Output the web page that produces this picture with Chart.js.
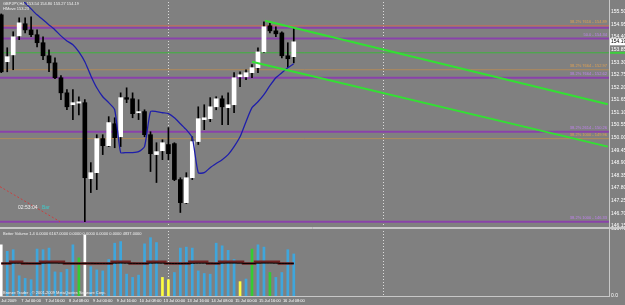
<!DOCTYPE html>
<html><head><meta charset="utf-8">
<script src="https://cdn.jsdelivr.net/npm/chart.js@4.4.1/dist/chart.umd.min.js"></script>
<style>
html,body{margin:0;padding:0;background:#808080;}
#wrap{position:relative;width:625px;height:305px;overflow:hidden;background:#808080;}
#main{position:absolute;left:0;top:0;}
#vol{position:absolute;left:0;top:228px;}
</style></head><body>
<div id="wrap"><canvas id="main" width="625" height="228"></canvas><canvas id="vol" width="625" height="77"></canvas></div>
<script>
// ---------- DATA ----------
const barIdx = [-1,0,1,2,3,4,5,6,7,8,9,10,11,12,13,14,15,16,17,18,19,20,21,22,23,24,25,26,27,28,29,30,31,32,33,34,35,36,37,38,39,40,41,42,43,44,45,46,47,48];
const opens  = [155.37,153.32,153.62,154.45,154.98,154.71,154.50,154.15,153.58,153.27,152.62,151.96,151.44,151.51,151.53,148.21,148.47,149.96,149.65,150.61,150.04,151.75,151.70,151.09,151.14,150.13,149.26,149.43,149.70,149.74,148.17,147.16,148.25,149.83,150.79,150.83,151.35,151.70,151.31,151.44,152.66,152.66,152.84,153.06,153.75,154.89,154.67,154.58,153.58,153.54];
const highs  = [155.41,153.93,154.63,155.24,155.24,155.28,154.71,154.41,153.84,153.49,152.71,152.10,152.10,151.79,151.66,148.91,150.13,150.13,150.92,150.87,151.96,152.18,151.96,151.66,151.22,150.26,149.78,149.91,150.44,149.78,148.25,148.47,150.04,151.35,151.44,151.75,151.79,151.83,151.96,152.84,152.88,152.97,153.19,153.93,155.06,155.02,154.85,154.63,154.15,154.80];
const lows   = [152.84,152.88,152.97,154.28,154.58,154.41,153.97,153.41,152.88,152.58,151.66,151.22,150.79,151.00,146.33,147.60,147.73,149.26,149.61,149.56,149.61,151.53,150.87,150.79,150.04,148.52,148.04,149.04,149.04,148.12,146.73,147.12,148.17,149.70,150.35,150.70,151.22,150.57,150.57,151.09,152.23,152.53,152.62,152.84,153.71,154.58,154.41,153.49,153.06,153.27];
const closes = [152.88,153.54,154.41,155.02,154.71,154.50,154.15,153.58,153.27,152.62,151.96,151.35,151.53,151.57,148.25,148.47,149.96,149.65,150.66,150.00,151.75,151.68,151.05,151.14,150.13,149.30,149.39,149.78,149.30,148.17,147.16,148.25,149.83,150.83,150.87,151.35,151.70,151.35,151.44,152.62,152.75,152.84,153.06,153.75,154.85,154.67,154.54,153.58,153.45,154.19];

const maBars   = [2,3,4,5,6,7,8,9,10,11,12,13,14,15,16,17,18,19,20,21,22,23,24,25,26,27,28,29,30,31,32,33,34,35,36,37,38,39,40,41,42,43,44,45,46,47,48];
const maValues = [156.16,155.89,155.63,155.37,155.15,154.93,154.71,154.45,154.23,154.06,153.75,153.32,152.71,152.18,151.79,151.53,151.22,149.35,149.35,149.35,149.39,149.61,151.14,151.14,151.09,151.05,150.87,150.61,150.35,150.00,148.47,148.47,148.69,148.87,149.04,149.26,149.61,150.04,150.70,151.31,151.57,151.88,152.27,152.62,152.84,153.06,153.23];

const volumes  = [4710,4110,4260,1860,1620,1500,4320,4260,4410,2220,2160,2460,4710,3510,5610,2700,2400,2310,3360,4860,5010,2010,1710,1920,4800,5370,4920,1710,1500,2160,4410,4500,4410,2310,2070,2010,4860,4620,4200,3360,1320,1560,4320,4710,4500,2160,1710,2160,4260,3870];
const volClass = ['climax','normal','normal','normal','normal','normal','normal','normal','normal','normal','normal','normal','normal','churn','climax','normal','normal','normal','normal','normal','normal','normal','normal','normal','normal','normal','normal','low','low','normal','normal','normal','normal','normal','normal','normal','normal','normal','normal','normal','low','normal','churn','normal','normal','churn','normal','normal','normal','normal'];
const volAvgSlow = [3000,3000,3150,3150,3000,3000,3000,3150,3150,3150,3150,3000,3000,3000,3000,3000,3000,3000,3000,3150,3150,3150,3000,3000,3000,3150,3150,3150,3000,3000,3000,3000,3150,3150,3150,3000,3000,3150,3150,3150,3150,3000,3000,3150,3150,3150,3150,3000,3000,3000];
const volAvgFast = [3010,3010,3020,3020,3010,3000,3000,3020,3030,3030,3020,3010,3000,3000,3010,3010,3000,3000,3000,3020,3030,3020,3010,3000,3000,3020,3030,3020,3000,2990,2990,3000,3010,3020,3020,3010,3000,3020,3030,3030,3020,3000,3000,3020,3030,3030,3020,3000,3000,3000];
const volMax = 6167;

const levelPrices = [154.89,154.80,154.34,153.71,152.97,152.62,150.26,149.96,146.33];
const levelKinds  = ['red','purple','purple','green','tan','purple','purple','tan','purple'];
const levelTexts  = ['38.2% 7616 - 154.89','','50.0 - 154.34','','38.2% 7664 - 152.97','38.2% 7664 - 152.62','38.2% 2614 - 150.26','38.2% 1000 - 149.96','38.2% 1000 - 146.33'];

const chanUpperBars = [43.2,100.6];  const chanUpperPrices = [155.11,151.46];
const chanLowerBars = [41.0,100.6];  const chanLowerPrices = [153.32,149.61];
const dottedBars = [-1.21,8.85];     const dottedPrices = [147.86,146.33];

const priceTicks = [155.50,154.95,154.40,153.85,153.30,152.75,152.20,151.65,151.10,150.55,150.00,149.45,148.90,148.35,147.80,147.25,146.70,146.15];
const timeTickBars = [0,4,8,12,16,20,24,28,32,36,40,44,48];
const timeTickLabels = ['6 Jul 2009','7 Jul 00:00','7 Jul 16:00','8 Jul 08:00','9 Jul 00:00','9 Jul 16:00','10 Jul 08:00','13 Jul 00:00','13 Jul 16:00','14 Jul 08:00','15 Jul 00:00','15 Jul 16:00','16 Jul 08:00'];
const separatorBars = [27,63];

const headerLine1 = 'GBPJPY,H4  153.54 154.80 153.27 154.19';
const headerLine2 = 'HMove 153.23';
const timerText = '02:53:04';
const timerTag = 'Bar';
const volTitle = 'Better Volume 1.4 0.0000 6167.0000 0.0000 0.0000 0.0000 0.0000 4837.0000';
const volFooter = 'Bronze Trader , \u00a9 2001-2009 MetaQuotes Software Corp.';

// ---------- STYLE ----------
const X_MIN = -1.21, X_MAX = 100.8;
const FONT = 'Liberation Sans';
const levelStyle = {
  red:{c:'#c86a5a',w:1,t:'#e0a050'}, purple:{c:'#8a42aa',w:2,t:'#c080f0'},
  green:{c:'#3cb43c',w:1,t:'#3cb43c'}, tan:{c:'#b08a5a',w:1,t:'#e0a050'}
};
const volColor = {normal:'#3fa6dc', churn:'#33cc33', low:'#ffff40', climax:'#ffffff'};

function zeroPad(s){ s.paddingTop=0; s.paddingBottom=0; s.paddingLeft=0; s.paddingRight=0; }

// ---------- MAIN CHART ----------
const datasets = [];
levelPrices.forEach((p,i)=>{
  const st = levelStyle[levelKinds[i]];
  datasets.push({type:'line', data:[{x:X_MIN,y:p},{x:X_MAX,y:p}], borderColor:st.c, borderWidth:st.w, pointRadius:0, order:10});
});
datasets.push({type:'bar', data: barIdx.map((b,i)=>({x:b, y:[lows[i],highs[i]]})), backgroundColor:'#000000', barThickness:1, grouped:false, order:4});
datasets.push({type:'bar', data: barIdx.map((b,i)=>({x:b, y:[opens[i],closes[i]]})),
  backgroundColor: barIdx.map((b,i)=> closes[i]>=opens[i] ? '#ffffff' : '#000000'),
  barThickness:4, grouped:false, minBarLength:1, order:3});
datasets.push({type:'line', data: maBars.map((b,i)=>({x:b,y:maValues[i]})), borderColor:'#1e1eaa', borderWidth:1.3, pointRadius:0, tension:0.2, order:1});
datasets.push({type:'line', data: chanUpperBars.map((b,i)=>({x:b,y:chanUpperPrices[i]})), borderColor:'#33e033', borderWidth:2, pointRadius:0, order:0});
datasets.push({type:'line', data: chanLowerBars.map((b,i)=>({x:b,y:chanLowerPrices[i]})), borderColor:'#33e033', borderWidth:2, pointRadius:0, order:0});
datasets.push({type:'line', data: dottedBars.map((b,i)=>({x:b,y:dottedPrices[i]})), borderColor:'#c84040', borderWidth:1, borderDash:[2,2], pointRadius:0, order:0});

const mainOverlay = {
  id:'mainOverlay',
  beforeDatasetsDraw(chart){
    const {ctx, chartArea:a, scales:{x}} = chart;
    ctx.save(); ctx.strokeStyle='#dcdcdc'; ctx.lineWidth=1; ctx.setLineDash([1,2]);
    separatorBars.forEach(b=>{ const px=Math.round(x.getPixelForValue(b))+0.5; ctx.beginPath(); ctx.moveTo(px,a.top); ctx.lineTo(px,a.bottom); ctx.stroke(); });
    ctx.restore();
  },
  afterDraw(chart){
    const {ctx, chartArea:a, scales:{y}} = chart;
    ctx.save();
    ctx.font = '4px "'+FONT+'"'; ctx.textAlign='right'; ctx.textBaseline='bottom';
    levelPrices.forEach((p,i)=>{
      if(!levelTexts[i]) return;
      ctx.fillStyle = levelStyle[levelKinds[i]].t;
      ctx.fillText(levelTexts[i], a.right-2, y.getPixelForValue(p)-1.5);
    });
    const gi = levelKinds.indexOf('green');
    const gy = y.getPixelForValue(levelPrices[gi]);
    ctx.fillStyle='#3cd03c'; ctx.fillRect(a.right, gy-1, chart.width-a.right, 2);
    const last = closes[closes.length-1];
    const cy = y.getPixelForValue(last);
    ctx.fillStyle='#ffffff'; ctx.fillRect(a.right+1, cy-3.5, chart.width-a.right-1, 7);
    ctx.fillStyle='#000000'; ctx.font='5px "'+FONT+'"'; ctx.textAlign='left'; ctx.textBaseline='middle';
    ctx.fillText(last.toFixed(2), a.right+2, cy);
    ctx.fillStyle='#f0f0f0'; ctx.font='4px "'+FONT+'"'; ctx.textBaseline='top';
    ctx.fillText(headerLine1, 3, 2);
    ctx.fillText(headerLine2, 3, 7);
    ctx.font='5px "'+FONT+'"'; ctx.textBaseline='middle';
    ctx.fillStyle='#f0f0f0'; ctx.fillText(timerText, a.left+18, a.top+206);
    ctx.fillStyle='#40c8c8'; ctx.fillText(timerTag, a.left+42, a.top+206);
    ctx.strokeStyle='#c8c8c8'; ctx.lineWidth=1;
    ctx.beginPath(); ctx.moveTo(a.right+0.5,0); ctx.lineTo(a.right+0.5,chart.height); ctx.stroke();
    ctx.beginPath(); ctx.moveTo(0,chart.height-0.5); ctx.lineTo(chart.width,chart.height-0.5); ctx.stroke();
    ctx.restore();
  }
};

new Chart(document.getElementById('main'), {
  data:{datasets},
  options:{
    animation:false, responsive:false, maintainAspectRatio:false,
    layout:{padding:{left:0, top:2, right:0, bottom:2}},
    scales:{
      x:{type:'linear', min:X_MIN, max:X_MAX, offset:false, display:false},
      y:{type:'linear', position:'right', min:146.14, max:155.93, bounds:'data', offset:false,
         grid:{display:false, drawTicks:false}, border:{display:false},
         afterBuildTicks:s=>{ s.ticks = priceTicks.map(v=>({value:v})); },
         afterFit:s=>{ s.width=16; zeroPad(s); },
         ticks:{padding:2, color:'#ffffff', font:{family:FONT, size:5}, callback:v=>Number(v).toFixed(2), autoSkip:false}
      }
    },
    plugins:{legend:{display:false}, tooltip:{enabled:false}}
  },
  plugins:[mainOverlay]
});

// ---------- VOLUME CHART ----------
const volOverlay = {
  id:'volOverlay',
  beforeDatasetsDraw(chart){
    const {ctx, chartArea:a, scales:{x}} = chart;
    ctx.save(); ctx.strokeStyle='#dcdcdc'; ctx.lineWidth=1; ctx.setLineDash([1,2]);
    separatorBars.forEach(b=>{ const px=Math.round(x.getPixelForValue(b))+0.5; ctx.beginPath(); ctx.moveTo(px,0); ctx.lineTo(px,a.bottom); ctx.stroke(); });
    ctx.restore();
  },
  afterDraw(chart){
    const {ctx, chartArea:a} = chart;
    ctx.save();
    ctx.fillStyle='#f0f0f0'; ctx.font='4px "'+FONT+'"'; ctx.textAlign='left'; ctx.textBaseline='top';
    ctx.fillText(volTitle, 3, 4);
    ctx.textBaseline='bottom';
    ctx.fillText(volFooter, 3, a.bottom-1);
    ctx.strokeStyle='#c8c8c8'; ctx.lineWidth=1;
    ctx.beginPath(); ctx.moveTo(0,0.5); ctx.lineTo(chart.width,0.5); ctx.stroke();
    ctx.beginPath(); ctx.moveTo(0,a.bottom+0.5); ctx.lineTo(a.right+1,a.bottom+0.5); ctx.stroke();
    ctx.beginPath(); ctx.moveTo(a.right+0.5,0); ctx.lineTo(a.right+0.5,a.bottom+1); ctx.stroke();
    ctx.restore();
  }
};

new Chart(document.getElementById('vol'), {
  data:{datasets:[
    {type:'line', data: barIdx.map((b,i)=>({x:b,y:volAvgFast[i]})), borderColor:'#000000', borderWidth:1, pointRadius:0, stepped:'middle', order:0},
    {type:'line', data: barIdx.map((b,i)=>({x:b,y:volAvgSlow[i]})), borderColor:'#6e2222', borderWidth:2.5, pointRadius:0, stepped:'middle', order:1},
    {type:'bar', data: barIdx.map((b,i)=>({x:b,y:volumes[i]})), backgroundColor: volClass.map(c=>volColor[c]), barThickness:2, grouped:false, order:2}
  ]},
  options:{
    animation:false, responsive:false, maintainAspectRatio:false,
    layout:{padding:{left:0, top:1, right:0, bottom:0}},
    scales:{
      x:{type:'linear', min:X_MIN, max:X_MAX, offset:false, position:'bottom',
         grid:{display:false, drawTicks:false, offset:false}, border:{display:false},
         afterBuildTicks:s=>{ s.ticks = timeTickBars.map(v=>({value:v})); },
         afterFit:s=>{ s.height=9; zeroPad(s); },
         ticks:{padding:2, color:'#ffffff', font:{family:FONT, size:4}, autoSkip:false, maxRotation:0,
                callback:(v)=>{ const k=timeTickBars.indexOf(Math.round(v)); return k>=0?timeTickLabels[k]:''; }}
      },
      y:{type:'linear', position:'right', min:0, max:volMax, bounds:'data',
         grid:{display:false, drawTicks:false}, border:{display:false},
         afterBuildTicks:s=>{ s.ticks = [{value:0},{value:volMax}]; },
         afterFit:s=>{ s.width=16; zeroPad(s); },
         ticks:{padding:2, color:'#ffffff', font:{family:FONT, size:5}, autoSkip:false, callback:v=>Number(v).toFixed(1)}
      }
    },
    plugins:{legend:{display:false}, tooltip:{enabled:false}}
  },
  plugins:[volOverlay]
});
</script>
</body></html>
